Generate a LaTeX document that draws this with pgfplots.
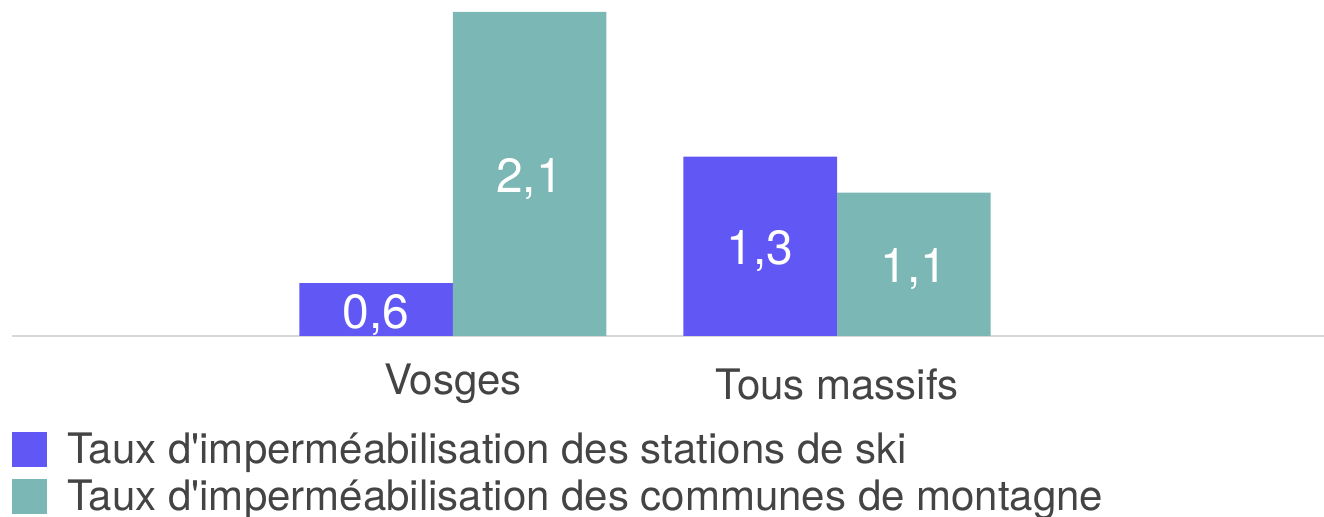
\documentclass[border=0pt]{standalone}
\usepackage{pgfplots}
\pgfplotsset{compat=1.18}
\usepackage{fontspec}
\setmainfont{TeX Gyre Heros}
\definecolor{ski}{RGB}{97,87,245}
\definecolor{comm}{RGB}{122,183,181}
\definecolor{txt}{RGB}{68,68,68}
\definecolor{axl}{RGB}{216,216,216}
\begin{document}
\begin{tikzpicture}
\begin{axis}[
  at={(0,0)}, anchor=south west,
  scale only axis,
  width=656pt, height=162pt,
  xmin=-1.148, xmax=2.268,
  ymin=0.307, ymax=2.1,
  ybar=0pt, bar width=76.75pt,
  hide y axis,
  axis x line=bottom,
  x axis line style={-, color=axl, line width=1.3pt},
  xtick={0,1},
  xticklabels={Vosges, Tous massifs},
  xtick style={draw=none},
  xticklabel style={anchor=center, yshift=-22pt, text=txt, font=\fontsize{21}{25}\selectfont},
  /pgf/number format/assume math mode=true,
  /pgf/number format/.cd, use comma, fixed, fixed zerofill, precision=1, /pgfplots/.cd,
  visualization depends on={y \as \rawy},
  nodes near coords,
  every node near coord/.append style={anchor=center, text=white,
     font=\fontsize{24}{28}\selectfont, yshift={-(\rawy-0.307)*45.18pt-2.5pt}},
  legend style={at={(0,0)}, anchor=north west, yshift=-47pt, xshift=0pt,
     draw=none, fill=none, inner sep=0pt, row sep=5pt, column sep=9pt,
     font=\fontsize{21}{25}\selectfont, text=txt,
     nodes={inner sep=1pt, anchor=west}},
  legend cell align=left,
  legend image code/.code={\fill[#1] (0pt,-8.75pt) rectangle (17.5pt,8.75pt);},
]
\addplot[fill=ski, draw=none] coordinates {(0,0.6) (1,1.3)};
\addplot[fill=comm, draw=none] coordinates {(0,2.1) (1,1.1)};
\legend{Taux d\textquotesingle imperméabilisation des stations de ski, Taux d\textquotesingle imperméabilisation des communes de montagne}
\end{axis}
\pgfresetboundingbox
\path (-6pt,-90.5pt) rectangle (656pt,168pt);
\end{tikzpicture}
\end{document}
